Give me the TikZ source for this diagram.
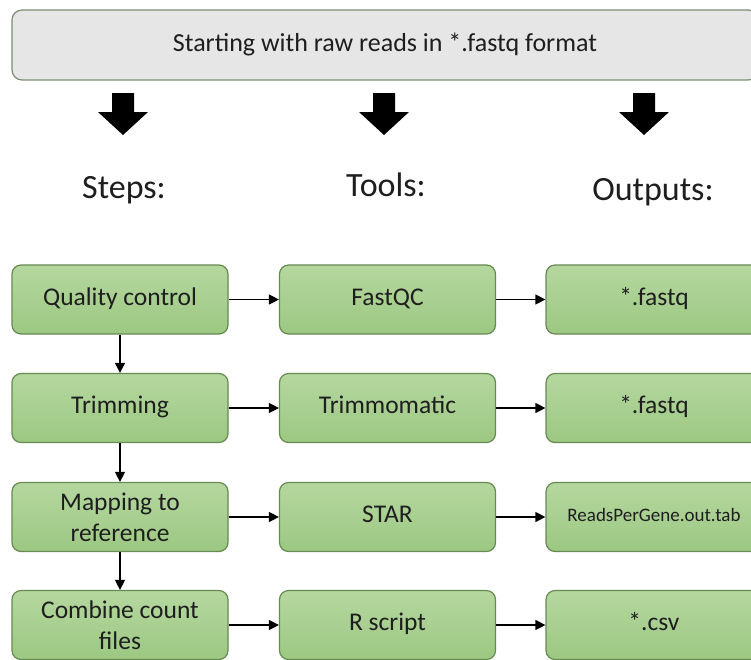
\documentclass[tikz,border=0pt]{standalone}
\usepackage{fontspec}
\setmainfont{Carlito}
\usetikzlibrary{arrows.meta}
\definecolor{gtop}{HTML}{B5D79F}
\definecolor{gbot}{HTML}{9CC882}
\definecolor{gline}{HTML}{678A52}
\definecolor{greyfill}{HTML}{E6E6E6}
\definecolor{greyline}{HTML}{7D8E76}
\definecolor{txt}{HTML}{1E1E1E}
\begin{document}
\begin{tikzpicture}[x=1pt,y=-1pt,
  box/.style={rounded corners=9pt, draw=gline, line width=1.2pt, top color=gtop, bottom color=gbot,
    minimum width=216pt, minimum height=69pt, text=txt, font=\fontsize{25.5}{31}\selectfont,
    align=center, inner sep=0pt},
  oneline/.style={text height=17pt, text depth=6pt},
  topbox/.style={rounded corners=10pt, draw=greyline, line width=1.2pt, fill=greyfill,
    minimum width=746pt, minimum height=70pt, text=txt, font=\fontsize{26}{30}\selectfont, inner sep=0pt},
  head/.style={text=txt, font=\fontsize{34}{40}\selectfont, inner sep=0pt},
  conn/.style={line width=1.2pt, -{Triangle[length=10pt,width=10pt]}},
  blockarrow/.style={fill=black, draw=none}]
\useasboundingbox (0,0) rectangle (751,659);
\clip (0,0) rectangle (751,659);
\fill[white] (0,0) rectangle (751,659);

\node[topbox] (start) at (385,45) {Starting with raw reads in *.fastq format};

\foreach \cx in {123,384,644}{
  \fill[blockarrow] (\cx-11,93) -- (\cx+11,93) -- (\cx+11,112) -- (\cx+25,112) -- (\cx,135) -- (\cx-25,112) -- (\cx-11,112) -- cycle;
}

\node[head] (steps) at (124,190) {Steps:};
\node[head] (tools) at (386,185) {Tools:};
\node[head] (outs) at (653,192) {Outputs:};

\node[box,oneline] (s1) at (120,299.5) {Quality control};
\node[box,oneline] (s2) at (120,408) {Trimming};
\node[box] (s3) at (120,517) {Mapping to\\reference};
\node[box] (s4) at (120,625) {Combine count\\files};

\node[box,oneline] (t1) at (387.5,299.5) {FastQC};
\node[box,oneline] (t2) at (387.5,408) {Trimmomatic};
\node[box,oneline] (t3) at (387.5,517) {STAR};
\node[box,oneline] (t4) at (387.5,625) {R script};

\node[box,oneline] (o1) at (654,299.5) {*.fastq};
\node[box,oneline] (o2) at (654,408) {*.fastq};
\node[box, font=\fontsize{19}{22}\selectfont, text height=13pt, text depth=4.5pt] (o3) at (654,517) {ReadsPerGene.out.tab};
\node[box,oneline] (o4) at (654,625) {*.csv};

\draw[conn] (s1) -- (s2);
\draw[conn] (s2) -- (s3);
\draw[conn] (s3) -- (s4);
\foreach \r in {1,2,3,4}{
  \draw[conn] (s\r) -- (t\r);
  \draw[conn] (t\r) -- (o\r);
}
\end{tikzpicture}
\end{document}
